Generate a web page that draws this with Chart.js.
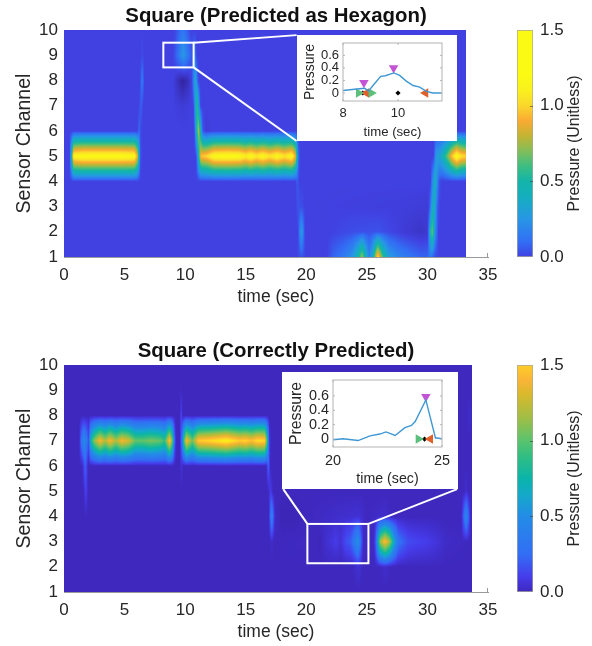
<!DOCTYPE html>
<html>
<head>
<meta charset="utf-8">
<script src="https://cdn.jsdelivr.net/npm/chart.js@4"></script>
<style>
html, body { margin: 0; padding: 0; background: #fff; }
#page { position: relative; width: 592px; height: 646px; overflow: hidden; filter: blur(0.4px); }
canvas { position: absolute; }
.inset { background: #fff; }
</style>
</head>
<body>
<div id="page">
  <canvas id="topMap" width="510" height="311" style="left:0;top:0"></canvas>
  <canvas id="topBar" width="82" height="311" style="left:510px;top:0"></canvas>
  <canvas id="topInset" class="inset" width="160" height="106" style="left:297px;top:35px"></canvas>
  <canvas id="botMap" width="510" height="311" style="left:0;top:335px"></canvas>
  <canvas id="botBar" width="82" height="311" style="left:510px;top:335px"></canvas>
  <canvas id="botInset" class="inset" width="176" height="117" style="left:282px;top:372px"></canvas>
</div>
<script>
// Sensor readings per channel as [time, pressure] pairs
const topCh1 = [[0,0],[19.2,0],[19.6,.04],[20,0],[21.7,0],[22.2,.08],[23,.14],[23.8,.25],[24.3,.5],[24.6,.75],[24.9,.42],[25.2,.18],[25.5,.42],[25.9,1.05],[26.3,.6],[26.8,.3],[27.5,.2],[28.5,.13],[29.5,.08],[30,.08],[30.25,.14],[30.6,.03],[31,0],[33.2,0]];
const topCh2 = [[0,0],[19.3,0],[19.6,.3],[19.9,0],[22,0],[24,.03],[26,.04],[28,-.02],[29.5,-.05],[30,-.03],[30.2,.3],[30.38,.72],[30.65,.2],[30.9,0],[33.2,0]];
const topCh3 = [[0,0],[19.15,0],[19.3,.04],[19.6,.03],[19.9,0],[28,-.01],[30,-.02],[30.15,.02],[30.5,.45],[30.85,.05],[31.05,0],[33.2,0]];
const topCh4 = [[0,0],[19.1,0],[19.25,.06],[19.45,0],[30.25,0],[30.62,.42],[30.95,.05],[31.15,0],[33.2,0]];
const topCh5 = [[0,0],[.45,0],[.62,.45],[.8,1.15],[1.5,1.2],[3,1.2],[4.5,1.2],[5.8,1.18],[6.05,.9],[6.3,.05],[6.5,0],[10.9,0],[11.05,.3],[11.3,.95],[11.8,1.02],[12.4,1.18],[13.5,1.2],[14.5,1.18],[15,1.1],[15.4,1.18],[15.9,1.08],[16.4,1.16],[17,1.06],[17.6,1.16],[18.2,1.06],[18.8,1.16],[19.1,.9],[19.35,.1],[19.5,0],[30.5,0],[30.75,.3],[31,.32],[31.3,.45],[31.7,.7],[32,.95],[32.4,1.2],[32.8,1.05],[33.2,1]];
const topCh6 = [[0,0],[6.05,0],[6.2,.1],[6.35,.01],[6.5,0],[10.75,0],[11.1,.8],[11.45,.05],[11.7,-.02],[12.2,0],[33.2,0]];
const topCh7 = [[0,0],[6.15,0],[6.35,.07],[6.55,0],[9,0],[9.8,-.02],[10.6,0],[10.68,0],[10.98,.6],[11.25,.03],[11.4,0],[33.2,0]];
const topCh8 = [[0,0],[6.25,0],[6.45,.15],[6.65,0],[9,0],[9.4,-.07],[9.8,-.13],[10.2,-.08],[10.55,0],[10.85,.35],[11.08,.02],[11.2,0],[33.2,0]];
const topCh9 = [[0,0],[6.3,0],[6.45,.03],[6.6,0],[9,0],[9.4,.12],[9.85,.27],[10.3,.12],[10.55,.05],[10.78,.14],[10.98,0],[33.2,0]];
const topCh10 = [[0,0],[9.1,0],[9.8,.14],[10.5,0],[33.2,0]];

const botCh1 = [[0,0],[33.7,0]];
const botCh2 = [[0,0],[23.8,0],[24.3,.05],[24.7,0],[26,0],[26.5,.03],[27,0],[33.7,0]];
const botCh3 = [[0,0],[17,0],[17.15,.03],[17.3,0],[20,.01],[21.15,-.01],[21.7,.045],[22.15,.07],[22.43,.1],[22.85,.05],[23.3,.16],[23.6,.19],[23.77,.245],[24.26,.545],[24.7,.015],[25.55,.01],[25.7,.15],[25.85,.5],[26.1,1.15],[26.5,1.45],[26.9,1.15],[27.2,.7],[27.6,.3],[28.4,.15],[29.2,.12],[30,.1],[30.7,.07],[31.5,.02],[33.7,0]];
const botCh4 = [[0,0],[1.7,0],[1.8,.01],[1.9,0],[16.9,0],[17.15,.45],[17.4,.02],[18,-.02],[19,-.02],[20,0],[24.3,.05],[25,0],[26.5,.03],[27,0],[32.8,0],[33.2,.48],[33.55,.02],[33.7,0]];
const botCh5 = [[0,0],[1.6,0],[1.8,.12],[2,0],[16.85,0],[17.05,.1],[17.25,0],[33,0],[33.2,.04],[33.4,0],[33.7,0]];
const botCh6 = [[0,0],[1.5,0],[1.75,.22],[2,0],[9.55,0],[9.7,.05],[9.85,0],[16.7,0],[16.85,.22],[17.05,0],[33.7,0]];
const botCh7 = [[0,0],[1.25,0],[1.45,.32],[1.65,.5],[1.9,.3],[2.05,.15],[2.2,.75],[2.5,1.1],[2.97,1.42],[3.4,1.2],[3.8,1.42],[4.3,1.18],[4.75,1.4],[5.3,1.3],[5.9,1.02],[6.5,1.02],[7.2,1.08],[8,1.02],[8.3,.9],[8.5,1.15],[8.72,1.5],[8.95,1],[9.15,.15],[9.3,0],[9.55,0],[9.75,.35],[9.85,.8],[10.1,1.42],[10.6,1.05],[11.1,1.5],[12,1.55],[13.4,1.68],[14.5,1.5],[15,1.55],[15.45,1.45],[16,1.58],[16.55,1.55],[16.75,1],[16.95,.1],[17.1,0],[33.7,0]];
const botCh8 = [[0,0],[9.55,0],[9.67,.14],[9.8,0],[33.2,0],[33.5,.03],[33.7,0]];
const botCh9 = [[0,0],[9.55,0],[9.67,.015],[9.8,0],[33.7,0]];
const botCh10 = [[0,0],[33.7,0]];

const topChannels = [topCh1, topCh2, topCh3, topCh4, topCh5, topCh6, topCh7, topCh8, topCh9, topCh10];
const botChannels = [botCh1, botCh2, botCh3, botCh4, botCh5, botCh6, botCh7, botCh8, botCh9, botCh10];

// Colour ramps, [pressure, [r, g, b]]
const topRamp = [[-.12,[52,38,165]],[0,[65,65,225]],[.1,[50,110,245]],[.25,[40,150,230]],[.4,[20,175,190]],[.5,[20,180,170]],[.6,[60,190,130]],[.7,[130,190,90]],[.8,[195,180,50]],[.9,[250,170,50]],[1,[250,215,45]],[1.1,[250,240,30]],[1.2,[250,250,20]],[1.5,[250,250,20]]];
const botRamp = [[-.05,[55,35,170]],[0,[62,40,190]],[.1,[70,60,235]],[.25,[50,110,245]],[.5,[35,140,230]],[.65,[20,170,200]],[.75,[10,180,170]],[.9,[50,190,130]],[1,[90,195,110]],[1.15,[160,190,70]],[1.3,[215,185,45]],[1.4,[250,180,55]],[1.5,[255,205,40]],[1.6,[250,230,30]],[1.75,[250,250,20]]];

// Inset line traces
const topInsetTime = [8,8.42,8.79,8.93,9.09,9.37,9.54,9.85,10.06,10.3,10.55,10.79,11.03,11.27,11.6];
const topInsetPressure = [.04,.06,.075,.03,.12,.265,.275,.32,.28,.19,.12,.095,.027,0,0];
const botInsetTime = [20,20.46,21.15,21.7,22.15,22.43,22.85,23.3,23.6,23.77,24.26,24.7,24.77,25];
const botInsetPressure = [-.01,.005,-.02,.045,.07,.1,.05,.16,.19,.245,.545,.015,.015,.005];

// Inset markers
const topPeaks = [[8.76,.165],[9.84,.4]];
const topStarts = [[8.57,0],[9.03,0]];
const topEnds = [[8.85,0],[11,0]];
const topCentres = [[8.72,0],[10,0]];
const botPeaks = [[24.26,.59]];
const botStarts = [[23.92,0]];
const botEnds = [[24.46,0]];
const botCentres = [[24.2,0]];

const channelTicks = [1,2,3,4,5,6,7,8,9,10];
const insetPressureTicks = [0,.2,.4,.6];
const barTicks = [0,.5,1,1.5];

const FONT = '"Liberation Sans", Arial, sans-serif';
const TEXT = '#262626';
const AXIS = '#9a9a9a';

function valueAt(pairs, t) {
    for (let i = 1; i < pairs.length; i++) {
        if (t <= pairs[i][0]) {
            const [t0, v0] = pairs[i - 1], [t1, v1] = pairs[i];
            return v0 + (v1 - v0) * (t - t0) / (t1 - t0);
        }
    }
    return pairs[pairs.length - 1][1];
}

function rampColor(ramp, v) {
    if (v <= ramp[0][0]) return ramp[0][1];
    for (let i = 1; i < ramp.length; i++) {
        if (v <= ramp[i][0]) {
            const f = (v - ramp[i - 1][0]) / (ramp[i][0] - ramp[i - 1][0]);
            return ramp[i][1].map((c, k) => ramp[i - 1][1][k] + (c - ramp[i - 1][1][k]) * f);
        }
    }
    return ramp[ramp.length - 1][1];
}

// Paints the channel rows between the axes, filling in between channels
function heatmapPlugin(rows, ramp) {
    return {
        id: 'heatmap',
        beforeDatasetsDraw(chart) {
            const { left, top, right, bottom } = chart.chartArea;
            const xs = chart.scales.x, ys = chart.scales.y;
            const w = Math.round(right - left), h = Math.round(bottom - top);
            const off = document.createElement('canvas');
            off.width = w;
            off.height = h;
            const octx = off.getContext('2d');
            const img = octx.createImageData(w, h);
            const tEnd = rows[0][rows[0].length - 1][0];
            for (let i = 0; i < w; i++) {
                const t = xs.getValueForPixel(left + i + 0.5);
                if (t > tEnd) continue;
                const col = rows.map(r => valueAt(r, t));
                for (let j = 0; j < h; j++) {
                    const ch = ys.getValueForPixel(top + j + 0.5);
                    const lo = Math.max(1, Math.min(9, Math.floor(ch)));
                    const f = ch - lo;
                    const c = rampColor(ramp, col[lo - 1] * (1 - f) + col[lo] * f);
                    const p = (j * w + i) * 4;
                    img.data[p] = c[0];
                    img.data[p + 1] = c[1];
                    img.data[p + 2] = c[2];
                    img.data[p + 3] = 255;
                }
            }
            octx.putImageData(img, 0, 0);
            chart.ctx.drawImage(off, left, top);
        }
    };
}

// White zoom box and the two lines running to the inset, in data coordinates
function zoomBoxPlugin(box, lines) {
    return {
        id: 'zoomBox',
        afterDatasetsDraw(chart) {
            const { ctx } = chart;
            const xs = chart.scales.x, ys = chart.scales.y;
            const px = (t, c) => [xs.getPixelForValue(t), ys.getPixelForValue(c)];
            ctx.save();
            ctx.strokeStyle = '#fff';
            ctx.lineWidth = 2;
            const [x0, y0] = px(box[0], box[1]);
            const [x1, y1] = px(box[2], box[3]);
            ctx.strokeRect(x0, y0, x1 - x0, y1 - y0);
            lines.forEach(l => {
                ctx.beginPath();
                ctx.moveTo(...px(l[0], l[1]));
                ctx.lineTo(...px(l[2], l[3]));
                ctx.stroke();
            });
            // the last x tick is the only one not hidden by the map
            ctx.strokeStyle = AXIS;
            ctx.lineWidth = 1;
            ctx.beginPath();
            const xe = Math.round(xs.getPixelForValue(xs.max)) - 0.5;
            ctx.moveTo(xe, chart.chartArea.bottom);
            ctx.lineTo(xe, chart.chartArea.bottom - 4);
            ctx.stroke();
            ctx.restore();
        }
    };
}

function makeMap(id, title, rows, ramp, box, lines) {
    const points = [];
    rows.forEach((r, c) => r.forEach(p => points.push({ x: p[0], y: c + 1 })));
    return new Chart(document.getElementById(id), {
        type: 'scatter',
        data: { datasets: [{ data: points, pointRadius: 0, showLine: false }] },
        plugins: [heatmapPlugin(rows, ramp), zoomBoxPlugin(box, lines)],
        options: {
            responsive: false,
            animation: false,
            layout: { padding: { right: 22 } },
            plugins: {
                legend: { display: false },
                tooltip: { enabled: false },
                title: {
                    display: true,
                    text: title,
                    fullSize: false,
                    color: '#111',
                    font: { family: FONT, size: 20.4, weight: 'bold' },
                    padding: { top: 3.8, bottom: 1.8 }
                }
            },
            scales: {
                x: {
                    min: 0,
                    max: 35,
                    afterFit: s => { s.height = 54; },
                    grid: { display: false, drawTicks: false },
                    border: { color: AXIS },
                    ticks: { stepSize: 5, maxRotation: 0, color: TEXT, padding: 8, font: { family: FONT, size: 17 } },
                    title: { display: true, text: 'time (sec)', color: TEXT, padding: { top: 0, bottom: 3 }, font: { family: FONT, size: 17.5 } }
                },
                y: {
                    min: 1,
                    max: 10,
                    afterFit: s => { s.width = 64; },
                    afterBuildTicks: s => { s.ticks = channelTicks.map(value => ({ value })); },
                    grid: { display: false, drawTicks: false },
                    border: { display: false },
                    ticks: { color: TEXT, padding: 6, autoSkip: false, font: { family: FONT, size: 17 } },
                    title: { display: true, text: 'Sensor Channel', color: TEXT, padding: { top: 13, bottom: 0 }, font: { family: FONT, size: 19.5 } }
                }
            }
        }
    });
}

function makeBar(id, ramp) {
    return new Chart(document.getElementById(id), {
        type: 'bar',
        data: {
            labels: [''],
            datasets: [{
                data: [[barTicks[0], barTicks[barTicks.length - 1]]],
                barPercentage: 1,
                categoryPercentage: 1,
                borderWidth: 1,
                borderSkipped: false,
                borderColor: '#a8a89a',
                backgroundColor(c) {
                    const a = c.chart.chartArea;
                    if (!a) return '#fff';
                    const g = c.chart.ctx.createLinearGradient(0, a.bottom, 0, a.top);
                    ramp.filter(s => s[0] >= 0 && s[0] <= 1.5).forEach(s => {
                        g.addColorStop(s[0] / 1.5, 'rgb(' + s[1].join(',') + ')');
                    });
                    return g;
                }
            }]
        },
        plugins: [{
            id: 'barLabel',
            afterDraw(chart) {
                const { ctx, chartArea: a, scales } = chart;
                ctx.save();
                // tick marks on the inside edge
                ctx.strokeStyle = 'rgba(60,60,60,.6)';
                barTicks.slice(1, -1).forEach(v => {
                    const y = Math.round(scales.y.getPixelForValue(v)) + 0.5;
                    ctx.beginPath();
                    ctx.moveTo(a.right - 3, y);
                    ctx.lineTo(a.right, y);
                    ctx.stroke();
                });
                // reads bottom to top, which a right hand axis title does not do
                ctx.translate(65, (a.top + a.bottom) / 2);
                ctx.rotate(-Math.PI / 2);
                ctx.fillStyle = TEXT;
                ctx.font = '16px ' + FONT;
                ctx.textAlign = 'center';
                ctx.textBaseline = 'middle';
                ctx.fillText('Pressure (Unitless)', 0, 0);
                ctx.restore();
            }
        }],
        options: {
            responsive: false,
            animation: false,
            layout: { padding: { left: 7, top: 30, bottom: 54 } },
            plugins: { legend: { display: false }, tooltip: { enabled: false } },
            scales: {
                x: { display: false },
                y: {
                    position: 'right',
                    min: 0,
                    max: 1.5,
                    afterFit: s => { s.width = 59; },
                    afterBuildTicks: s => { s.ticks = barTicks.map(value => ({ value })); },
                    grid: { display: false, drawTicks: false },
                    border: { display: false },
                    ticks: {
                        color: TEXT,
                        padding: 7,
                        font: { family: FONT, size: 17 },
                        callback: v => v.toFixed(1)
                    }
                }
            }
        }
    });
}

const insetBoxPlugin = {
    id: 'insetBox',
    afterDatasetsDraw(chart) {
        const { ctx, chartArea: a, scales } = chart;
        ctx.save();
        ctx.strokeStyle = '#b4b4b4';
        ctx.lineWidth = 1;
        ctx.strokeRect(a.left, a.top, a.right - a.left, a.bottom - a.top);
        ctx.beginPath();
        scales.x.ticks.forEach(t => {
            const x = scales.x.getPixelForValue(t.value);
            ctx.moveTo(x, a.bottom);
            ctx.lineTo(x, a.bottom - 2);
            ctx.moveTo(x, a.top);
            ctx.lineTo(x, a.top + 2);
        });
        scales.y.ticks.forEach(t => {
            const y = scales.y.getPixelForValue(t.value);
            ctx.moveTo(a.left, y);
            ctx.lineTo(a.left + 2, y);
            ctx.moveTo(a.right, y);
            ctx.lineTo(a.right - 2, y);
        });
        ctx.stroke();
        ctx.restore();
    }
};

function markerSet(pairs, style, rotation, color, radius) {
    return {
        data: pairs.map(p => ({ x: p[0], y: p[1] })),
        showLine: false,
        pointStyle: style,
        rotation,
        pointRadius: radius,
        pointBackgroundColor: color,
        pointBorderColor: color,
        pointBorderWidth: 0
    };
}

function makeInset(id, opt) {
    const tickSize = opt.tickSize;
    return new Chart(document.getElementById(id), {
        type: 'scatter',
        data: {
            datasets: [
                {
                    data: opt.time.map((t, i) => ({ x: t, y: opt.pressure[i] })),
                    showLine: true,
                    borderColor: '#3f97d3',
                    borderWidth: 1.4,
                    pointRadius: 0,
                    tension: 0
                },
                markerSet(opt.peaks, 'triangle', 180, '#c354d6', 5.5),
                markerSet(opt.starts, 'triangle', 90, '#5cbf7c', 5.5),
                markerSet(opt.ends, 'triangle', -90, '#e0602a', 5.5),
                markerSet(opt.centres, 'rectRot', 0, '#000', 2.6)
            ]
        },
        plugins: [insetBoxPlugin],
        options: {
            responsive: false,
            animation: false,
            layout: { padding: { top: 8, right: opt.padRight } },
            plugins: { legend: { display: false }, tooltip: { enabled: false } },
            scales: {
                x: {
                    min: opt.xMin,
                    max: opt.xMax,
                    afterFit: s => { s.height = opt.xHeight; s.paddingLeft = 0; s.paddingRight = 0; },
                    afterBuildTicks: s => { s.ticks = opt.xTicks.map(value => ({ value })); },
                    grid: { display: false, drawTicks: false },
                    border: { display: false },
                    ticks: { color: TEXT, padding: 5, maxRotation: 0, autoSkip: false, font: { family: FONT, size: tickSize } },
                    title: { display: true, text: 'time (sec)', color: TEXT, padding: { top: 0, bottom: 1 }, font: { family: FONT, size: opt.timeSize } }
                },
                y: {
                    min: opt.yMin,
                    max: opt.yMax,
                    // the top label must not push the plot box down
                    afterFit: s => { s.width = opt.yWidth; s.paddingTop = 0; s.paddingBottom = 0; },
                    afterBuildTicks: s => { s.ticks = insetPressureTicks.map(value => ({ value })); },
                    grid: { display: false, drawTicks: false },
                    border: { display: false },
                    ticks: {
                        color: TEXT,
                        padding: 4,
                        autoSkip: false,
                        font: { family: FONT, size: tickSize },
                        callback: v => (v === 0 ? '0' : v.toFixed(1))
                    },
                    title: { display: true, text: 'Pressure', color: TEXT, padding: { top: opt.pressurePad, bottom: 0 }, font: { family: FONT, size: opt.pressureSize } }
                }
            }
        }
    });
}

makeMap('topMap', 'Square (Predicted as Hexagon)', topChannels, topRamp,
    [8.2, 9.5, 10.7, 8.52],
    [[10.7, 9.5, 19.2, 9.8], [10.7, 8.52, 19.2, 5.6]]);
makeMap('botMap', 'Square (Correctly Predicted)', botChannels, botRamp,
    [20.09, 3.7, 25.13, 2.14],
    [[20.09, 3.7, 18.1, 5.08], [25.13, 3.7, 32.45, 5.08]]);

makeBar('topBar', topRamp);
makeBar('botBar', botRamp);

makeInset('topInset', {
    time: topInsetTime, pressure: topInsetPressure,
    peaks: topPeaks, starts: topStarts, ends: topEnds, centres: topCentres,
    xMin: 8, xMax: 11.6, xTicks: [8, 10], yMin: -.127, yMax: .796,
    padRight: 15, xHeight: 40, yWidth: 46,
    tickSize: 13, timeSize: 13.2, pressureSize: 14, pressurePad: 5
});
makeInset('botInset', {
    time: botInsetTime, pressure: botInsetPressure,
    peaks: botPeaks, starts: botStarts, ends: botEnds, centres: botCentres,
    xMin: 20, xMax: 25, xTicks: [20, 25], yMin: -.11, yMax: .822,
    padRight: 16, xHeight: 42, yWidth: 51,
    tickSize: 14.4, timeSize: 14.2, pressureSize: 15.8, pressurePad: 5
});
</script>
</body>
</html>
